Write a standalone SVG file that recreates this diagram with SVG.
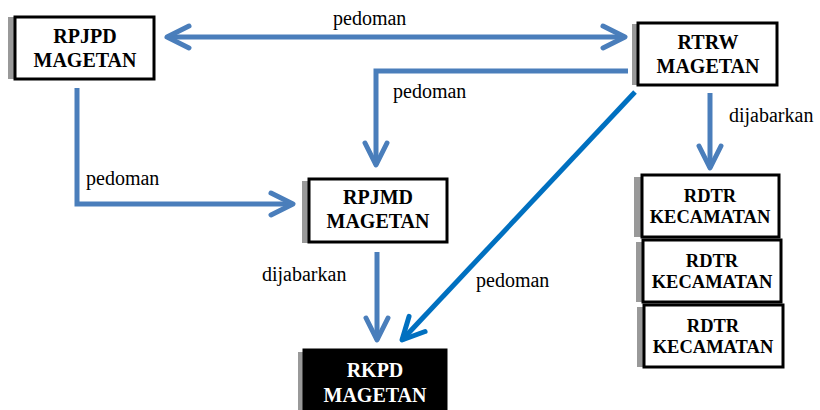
<svg xmlns="http://www.w3.org/2000/svg" width="820" height="410" viewBox="0 0 820 410">
<style>
.box{fill:#fff;stroke:#000;stroke-width:3}
.dark{fill:#000;stroke:#000;stroke-width:3}
.shadow{fill:#999}
.bt{font-family:'Liberation Serif','Times New Roman','DejaVu Serif',serif;font-weight:bold;font-size:20px;text-anchor:middle;fill:#000}
.bs{font-size:18.5px}
.wt{fill:#fff}
.lbl{font-family:'Liberation Serif','Times New Roman','DejaVu Serif',serif;font-size:20px;fill:#000}
.c{fill:none;stroke:#4a7ebb;stroke-width:5}
.d{fill:none;stroke:#0070c0;stroke-width:5}
</style>
<defs>
<marker id="ah" viewBox="-30 -16 36 32" markerWidth="36" markerHeight="32" refX="0" refY="0" markerUnits="userSpaceOnUse" orient="auto-start-reverse">
<path d="M-22,-11 L0,0 L-22,11" fill="none" stroke="#4a7ebb" stroke-width="5" stroke-linecap="round" stroke-linejoin="round"/>
</marker>
<marker id="ahd" viewBox="-30 -16 36 32" markerWidth="36" markerHeight="32" refX="0" refY="0" markerUnits="userSpaceOnUse" orient="auto">
<path d="M-22,-11 L0,0 L-22,11" fill="none" stroke="#0070c0" stroke-width="5" stroke-linecap="round" stroke-linejoin="round"/>
</marker>
</defs>
<g id="connectors">
<line class="c" x1="167" y1="37" x2="625" y2="37" marker-start="url(#ah)" marker-end="url(#ah)"/>
<polyline class="c" points="628,71 376,71 376,165" marker-end="url(#ah)"/>
<polyline class="c" points="77,88 77,204 293,204" marker-end="url(#ah)"/>
<line class="c" x1="377" y1="252" x2="377" y2="340" marker-end="url(#ah)"/>
<line class="c" x1="710" y1="93" x2="710" y2="168" marker-end="url(#ah)"/>
<line class="d" x1="635" y1="92" x2="402" y2="340" marker-end="url(#ahd)"/>
<text class="lbl" font-family="Liberation Serif, serif" x="333" y="25">pedoman</text>
<text class="lbl" font-family="Liberation Serif, serif" x="393" y="98">pedoman</text>
<text class="lbl" font-family="Liberation Serif, serif" x="86" y="185">pedoman</text>
<text class="lbl" font-family="Liberation Serif, serif" x="262" y="281">dijabarkan</text>
<text class="lbl" font-family="Liberation Serif, serif" x="476" y="287">pedoman</text>
<text class="lbl" font-family="Liberation Serif, serif" x="729" y="122">dijabarkan</text>
</g>
<g id="rpjpd">
<rect class="shadow" x="8" y="17" width="8" height="62"/>
<rect class="box" x="15" y="17" width="139" height="62"/>
<text class="bt" x="85" y="43">RPJPD</text>
<text class="bt" x="85" y="67">MAGETAN</text>
</g>
<g id="rtrw">
<rect class="shadow" x="632" y="24" width="7" height="61"/>
<rect class="box" x="638" y="23" width="139" height="62"/>
<text class="bt" x="708" y="49">RTRW</text>
<text class="bt" x="708" y="73">MAGETAN</text>
</g>
<g id="rpjmd">
<rect class="shadow" x="302" y="181" width="8" height="62"/>
<rect class="box" x="309" y="179" width="138" height="63"/>
<text class="bt" x="378" y="204">RPJMD</text>
<text class="bt" x="378" y="228">MAGETAN</text>
</g>
<g id="rkpd">
<rect class="shadow" x="298" y="352" width="8" height="60"/>
<rect class="dark" x="304" y="350" width="142" height="64"/>
<text class="bt wt" x="375" y="377">RKPD</text>
<text class="bt wt" x="375" y="402">MAGETAN</text>
</g>
<g id="rdtr1">
<rect class="shadow" x="634" y="177" width="8" height="60"/>
<rect class="box" x="642" y="175" width="137" height="62"/>
<text class="bt bs" x="710" y="202">RDTR</text>
<text class="bt bs" x="710" y="223">KECAMATAN</text>
</g>
<g id="rdtr2">
<rect class="shadow" x="636" y="242" width="8" height="60"/>
<rect class="box" x="643" y="240" width="138" height="62"/>
<text class="bt bs" x="712" y="267">RDTR</text>
<text class="bt bs" x="712" y="288">KECAMATAN</text>
</g>
<g id="rdtr3">
<rect class="shadow" x="637" y="307" width="8" height="60"/>
<rect class="box" x="644" y="305" width="139" height="62"/>
<text class="bt bs" x="713" y="332">RDTR</text>
<text class="bt bs" x="713" y="353">KECAMATAN</text>
</g>
</svg>
